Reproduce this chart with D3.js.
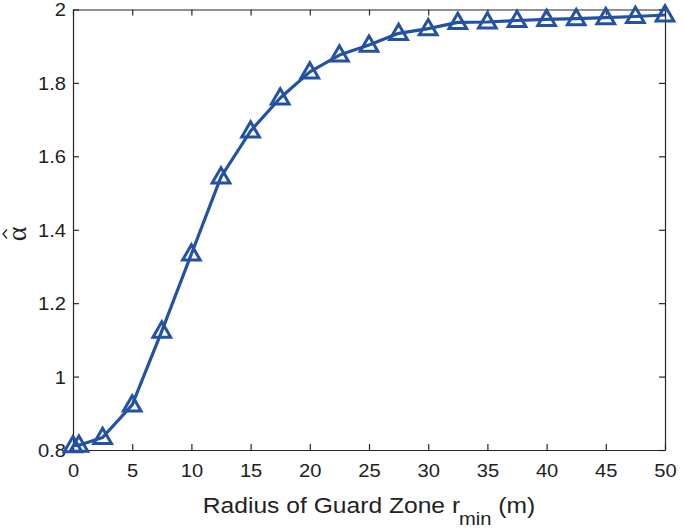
<!DOCTYPE html>
<html><head><meta charset="utf-8">
<script src="https://cdn.jsdelivr.net/npm/d3@7"></script>
<style>body{margin:0;background:#fff}svg{display:block}text{font-family:"Liberation Sans",Arial,sans-serif;fill:#222}</style>
</head><body>
<svg id="c" width="685" height="529"></svg>
<script>
const xValues = [0, 0.5, 2.5, 5, 7.5, 10, 12.5, 15, 17.5, 20, 22.5, 25, 27.5, 30, 32.5, 35, 37.5, 40, 42.5, 45, 47.5, 50];
const alphaValues = [0.812, 0.813, 0.834, 0.923, 1.124, 1.334, 1.544, 1.669, 1.759, 1.830, 1.876, 1.903, 1.935, 1.948, 1.965, 1.966, 1.970, 1.973, 1.975, 1.978, 1.981, 1.985];
const xTicks = [0, 5, 10, 15, 20, 25, 30, 35, 40, 45, 50];
const yTicks = [0.8, 1, 1.2, 1.4, 1.6, 1.8, 2];

const svg = d3.select("#c");
const L = 73, R = 665, T = 9.5, B = 450;
const x = d3.scaleLinear().domain([0, 50]).range([L, R]);
const y = d3.scaleLinear().domain([0.8, 2]).range([B, T]);
const col = "#2352a3";
const tickLen = 6;
const SX = 1.12; // horizontal stretch of the reference's text

const fmt = d => String(d);
const gx = svg.append("g").attr("transform", `translate(0,${B})`)
  .call(d3.axisBottom(x).tickValues(xTicks).tickFormat(fmt).tickSizeInner(-tickLen).tickSizeOuter(0));
const gy = svg.append("g").attr("transform", `translate(${L},0)`)
  .call(d3.axisLeft(y).tickValues(yTicks).tickFormat(fmt).tickSizeInner(-tickLen).tickSizeOuter(0));
const gt = svg.append("g").attr("transform", `translate(0,${T})`)
  .call(d3.axisTop(x).tickValues(xTicks).tickFormat("").tickSizeInner(-tickLen).tickSizeOuter(0));
const gr = svg.append("g").attr("transform", `translate(${R},0)`)
  .call(d3.axisRight(y).tickValues(yTicks).tickFormat("").tickSizeInner(-tickLen).tickSizeOuter(0));
[gx, gy, gt, gr].forEach(g => {
  g.selectAll("path.domain").attr("stroke", "#262626").attr("stroke-width", 1.2);
  g.selectAll(".tick line").attr("stroke", "#262626").attr("stroke-width", 1.2);
  g.selectAll("text").style("font-size", "18px").attr("fill", "#222");
});
gx.selectAll("text").attr("x", 0).attr("y", 27).attr("dy", null).attr("transform", `scale(${SX},1)`);
gy.selectAll("text").attr("x", -7 / SX).attr("dy", "0.36em").attr("transform", `scale(${SX},1)`);

// line
const line = d3.line().x((d, i) => x(xValues[i])).y(d => y(d));
svg.append("path").datum(alphaValues).attr("d", line)
  .attr("fill", "none").attr("stroke", col).attr("stroke-width", 3.2).attr("stroke-linejoin", "round");

// triangle markers
const tri = d3.symbol().type(d3.symbolTriangle).size(135);
svg.append("g").selectAll("path").data(alphaValues).join("path")
  .attr("d", tri)
  .attr("transform", (d, i) => `translate(${x(xValues[i])},${y(d) + 1})`)
  .attr("fill", "none").attr("stroke", col).attr("stroke-width", 3);

// x label
const cx = 369;
const xl = svg.append("text").attr("x", cx / SX).attr("y", 513).attr("text-anchor", "middle")
  .attr("transform", `scale(${SX},1)`).style("font-size", "22px");
xl.append("tspan").text("Radius of Guard Zone r");
xl.append("tspan").attr("dy", 12).attr("dx", -1).style("font-size", "18px").text("min");
xl.append("tspan").attr("dy", -12).text(" (m)");

// y label: alpha with hat
const yc = 234;
const yl = svg.append("g").attr("transform", `translate(26,${yc}) rotate(-90)`);
yl.append("text").attr("x", 0).attr("y", 0).attr("text-anchor", "middle")
  .style("font-family", "'Liberation Serif', serif").style("font-size", "28px").text("\u03B1");
yl.append("path").attr("d", "M -4.5 -19 L 0 -23 L 4.5 -19")
  .attr("fill", "none").attr("stroke", "#222").attr("stroke-width", 1.3);
</script>
</body></html>
